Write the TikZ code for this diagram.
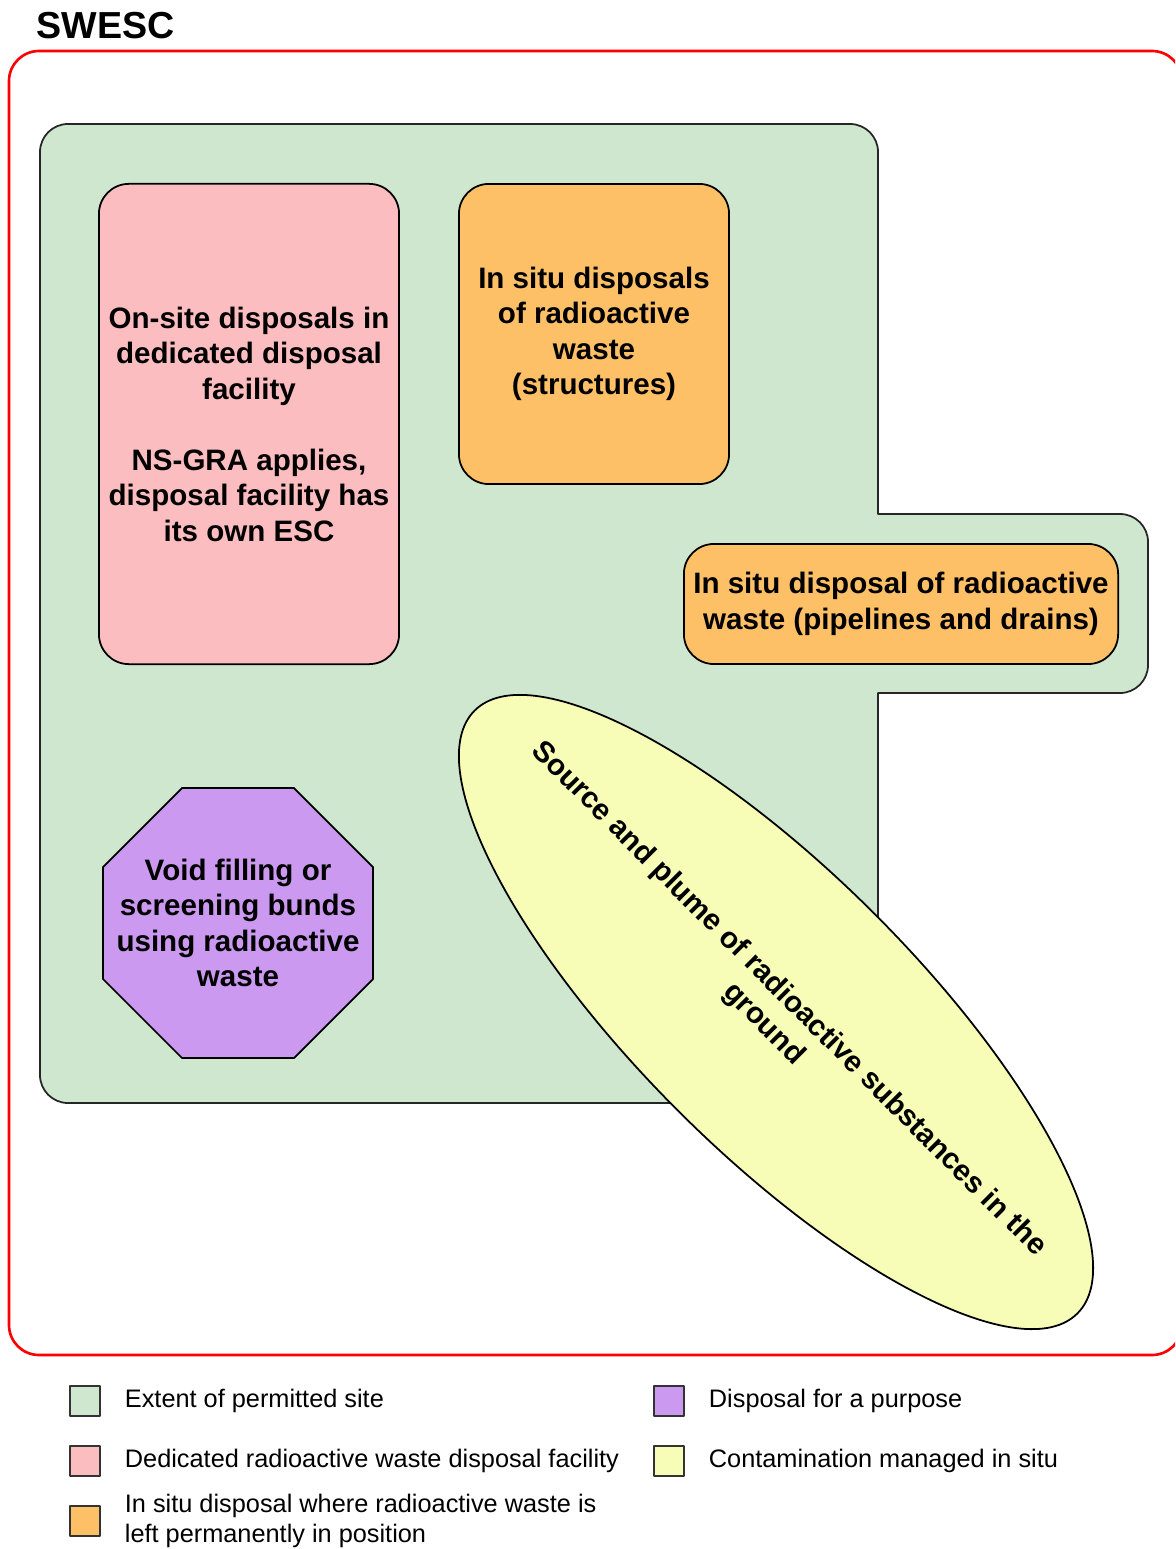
\documentclass[tikz,border=0pt]{standalone}
\usepackage{fontspec}
\setmainfont{Liberation Sans}
\usetikzlibrary{positioning,shapes.geometric}
\definecolor{sitegreen}{RGB}{207,230,207}
\definecolor{facpink}{RGB}{252,189,192}
\definecolor{insituorange}{RGB}{253,192,103}
\definecolor{purposeviolet}{RGB}{204,153,240}
\definecolor{plumeyellow}{RGB}{247,252,182}
\definecolor{swescred}{RGB}{255,0,0}
\begin{document}
\begin{tikzpicture}[x=0.01cm,y=-0.01cm,line join=round,line cap=round,font=\bfseries\fontsize{8.4}{10.1}\selectfont]
	\tikzset{every node/.style={inner sep=0pt,align=center},
		box/.style={draw=black,line width=0.5pt,rounded corners=0.3cm},
		key/.style={draw=black!80,line width=0.4pt,minimum size=0.3cm},
		keytext/.style={font=\mdseries\fontsize{7.2}{8.3}\selectfont,align=left}}
	\useasboundingbox (0,0) rectangle (1175,1549);
	\begin{scope}
		\clip (0,0) rectangle (1175,1549);
		\draw[swescred,line width=0.75pt,rounded corners=0.3cm] (9,51) rectangle (1182,1355);
	\end{scope}
	\node[font=\bfseries\fontsize{10.7}{12}\selectfont,anchor=base west] (title) at (36,39) {SWESC};
	\draw[fill=sitegreen,draw=black!85,line width=0.5pt] (68,124) -- (850,124) arc[start angle=90,end angle=0,radius=0.28cm]
		-- (878,514) -- (1120,514) arc[start angle=90,end angle=0,radius=0.28cm]
		-- (1148,665) arc[start angle=0,end angle=-90,radius=0.28cm]
		-- (878,693) -- (878,1075) arc[start angle=0,end angle=-90,radius=0.28cm]
		-- (68,1103) arc[start angle=-90,end angle=-180,radius=0.28cm]
		-- (40,152) arc[start angle=180,end angle=90,radius=0.28cm] -- cycle;
	\node[box,fill=facpink,minimum width=3cm,minimum height=4.8cm] (facility) at (249,424) {On-site disposals in\\dedicated disposal\\facility\\[10.1pt]NS-GRA applies,\\disposal facility has\\its own ESC};
	\node[box,fill=insituorange,minimum width=2.7cm,minimum height=3cm] (structures) at (594,334) {In situ disposals\\of radioactive\\waste\\(structures)};
	\node[box,fill=insituorange,minimum width=4.34cm,minimum height=1.2cm] (pipelines) at (901,604) {In situ disposal of radioactive\\waste (pipelines and drains)};
	\node[draw=black,line width=0.5pt,fill=purposeviolet,regular polygon,regular polygon sides=8,minimum size=2.922cm] (void) at (238,923) {};
	\node (voidtext) at (void.center) {Void filling or\\screening bunds\\using radioactive\\waste};
	\node[draw=black,line width=0.5pt,fill=plumeyellow,ellipse,rotate=-45,minimum width=8.52cm,minimum height=2.78cm] (plume) at (776,1012) {};
	\node[rotate=-45] (plumetext) at (plume.center) {Source and plume of radioactive substances in the\\ground};
	\foreach \k/\c/\x/\y/\t in {site/sitegreen/85/1401/{Extent of permitted site},
		fac/facpink/85/1461/{Dedicated radioactive waste disposal facility},
		insitu/insituorange/85/1521/{In situ disposal where radioactive waste is\\left permanently in position},
		purp/purposeviolet/669/1401/{Disposal for a purpose},
		cont/plumeyellow/669/1461/{Contamination managed in situ}}
	{
		\node[key,fill=\c] (key-\k) at (\x,\y) {};
		\node[keytext,right=0.235cm of key-\k] (keytext-\k) {\t};
	}
\end{tikzpicture}
\end{document}
